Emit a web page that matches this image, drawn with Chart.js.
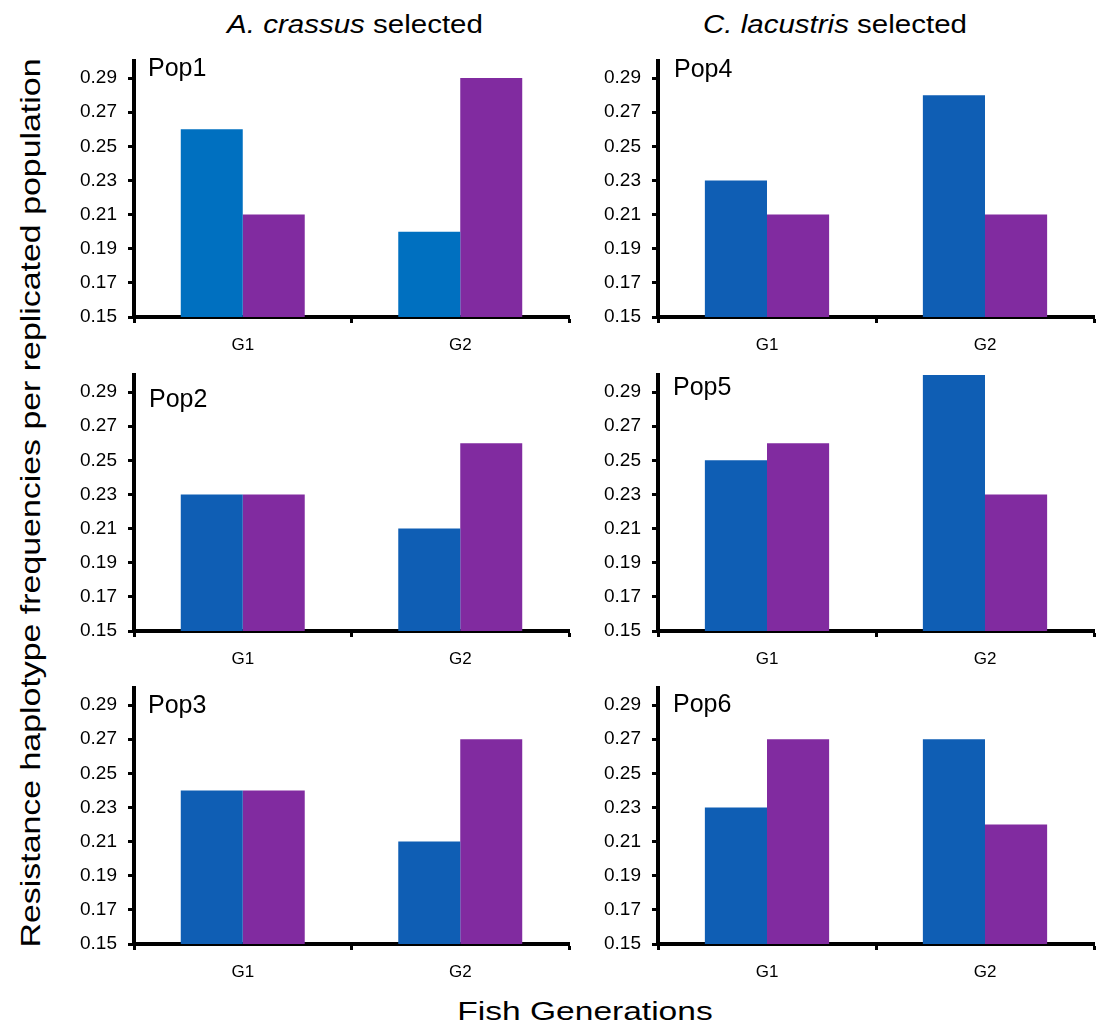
<!DOCTYPE html>
<html>
<head>
<meta charset="utf-8">
<script src="https://cdn.jsdelivr.net/npm/chart.js@4.4.0/dist/chart.umd.min.js"></script>
<style>
  body { margin: 0; background: #fff; width: 1098px; height: 1032px; position: relative; overflow: hidden;
         font-family: "Liberation Sans", Arial, sans-serif; }
  canvas { position: absolute; }
  .lbl { position: absolute; white-space: nowrap; color: #000; line-height: 1; }
</style>
</head>
<body>
<div class="lbl" style="left:355px; top:24px; font-size:25px; transform:translate(-50%,-50%) scaleX(1.18);"><i>A. crassus</i> selected</div>
<div class="lbl" style="left:835px; top:24px; font-size:25px; transform:translate(-50%,-50%) scaleX(1.18);"><i>C. lacustris</i> selected</div>
<div class="lbl" style="left:31px; top:503px; font-size:28px; transform:translate(-50%,-50%) rotate(-90deg) scaleX(1.21);">Resistance haplotype frequencies per replicated population</div>
<div class="lbl" style="left:585px; top:1011px; font-size:26px; transform:translate(-50%,-50%) scaleX(1.29);">Fish Generations</div>

<canvas id="c0" width="512" height="306" style="left:64px; top:55px;"></canvas>
<canvas id="c1" width="512" height="306" style="left:64px; top:369px;"></canvas>
<canvas id="c2" width="512" height="306" style="left:64px; top:682px;"></canvas>
<canvas id="c3" width="510" height="306" style="left:588px; top:55px;"></canvas>
<canvas id="c4" width="510" height="306" style="left:588px; top:369px;"></canvas>
<canvas id="c5" width="510" height="306" style="left:588px; top:682px;"></canvas>

<script>
const generations = ['G1', 'G2'];
const yTicks = [0.15, 0.17, 0.19, 0.21, 0.23, 0.25, 0.27, 0.29];
const popNames = ['Pop1', 'Pop2', 'Pop3', 'Pop4', 'Pop5', 'Pop6'];

// first (blue) bar of each generation, per population
const blueValues = [
    [0.26, 0.20],
    [0.23, 0.21],
    [0.24, 0.21],
    [0.23, 0.28],
    [0.25, 0.30],
    [0.23, 0.27]
];
// second (purple) bar of each generation, per population
const purpleValues = [
    [0.21, 0.29],
    [0.23, 0.26],
    [0.24, 0.27],
    [0.21, 0.21],
    [0.26, 0.23],
    [0.27, 0.22]
];

const FONT = '"Liberation Sans", Arial, sans-serif';
const blueColors = ['#0070C0', '#0F5EB4', '#0F5EB4', '#0F5EB4', '#0F5EB4', '#0F5EB4'];
const PURPLE = '#812BA0';
// where the "PopN" label sits, relative to the plot area
const labelPos = [[14, 15], [15, 32], [14, 25], [16, 16], [15, 20], [15, 24]];

const popLabel = {
    id: 'popLabel',
    afterDraw(chart, args, opts) {
        const { ctx, chartArea } = chart;
        ctx.save();
        ctx.font = '25px ' + FONT;
        ctx.fillStyle = '#000';
        ctx.textBaseline = 'alphabetic';
        ctx.fillText(opts.text, chartArea.left + opts.dx, chartArea.top + opts.dy);
        ctx.restore();
    }
};

function makePanel(i) {
    const ctx = document.getElementById('c' + i).getContext('2d');
    const rightPad = i < 3 ? 7 : 4;
    new Chart(ctx, {
        type: 'bar',
        data: {
            labels: generations,
            datasets: [
                { data: blueValues[i], backgroundColor: blueColors[i], borderWidth: 0 },
                { data: purpleValues[i], backgroundColor: PURPLE, borderWidth: 0 }
            ]
        },
        options: {
            responsive: false,
            animation: false,
            devicePixelRatio: 1,
            layout: { padding: { top: 6, right: rightPad, left: 0, bottom: 0 } },
            datasets: { bar: { barPercentage: 1, categoryPercentage: 0.57 } },
            plugins: {
                legend: { display: false },
                tooltip: { enabled: false },
                popLabel: { text: popNames[i], dx: labelPos[i][0], dy: labelPos[i][1] }
            },
            scales: {
                x: {
                    afterFit: s => { s.height = 44; s.paddingLeft = 0; s.paddingRight = 0; },
                    border: { color: '#000', width: 4 },
                    grid: { drawOnChartArea: false, offset: true, tickLength: 6, tickColor: '#000', tickWidth: 3 },
                    ticks: { color: '#000', font: { family: FONT, size: 17 }, padding: 12 }
                },
                y: {
                    min: 0.15,
                    max: 0.30,
                    afterBuildTicks: s => { s.ticks = yTicks.map(v => ({ value: v })); },
                    afterFit: s => { s.width = 70; s.paddingTop = 0; s.paddingBottom = 0; },
                    border: { color: '#000', width: 4 },
                    grid: { drawOnChartArea: false, tickLength: 6, tickColor: '#000', tickWidth: 3 },
                    ticks: {
                        color: '#000',
                        autoSkip: false,
                        font: { family: FONT, size: 19 },
                        padding: 11,
                        callback: v => Number(v).toFixed(2)
                    }
                }
            }
        },
        plugins: [popLabel]
    });
}

for (let i = 0; i < 6; i++) makePanel(i);
</script>
</body>
</html>
